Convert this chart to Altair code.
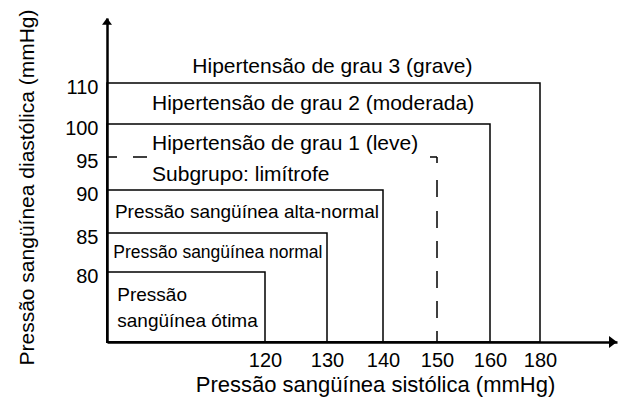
import altair as alt
import pandas as pd

FONT = "Liberation Sans, Arial, Helvetica, sans-serif"

# ---- data -------------------------------------------------------------
# axis extents (origin and arrow tips)
sys_origin, sys_end = 100, 200
dia_origin, dia_end = 70, 120

# tick labels
x_ticks = [120, 130, 140, 150, 160, 180]
y_ticks = [80, 85, 90, 95, 100, 110]

# solid category boxes: upper systolic / diastolic limits
box_sys = [180, 160, 140, 130, 120]
box_dia = [110, 100, 90, 85, 80]

# dashed borderline subgroup limit
border_sys = 150
border_dia = 95

# region labels and their anchor points (data units)
labels = [
    "Hipertensão de grau 3 (grave)",
    "Hipertensão de grau 2 (moderada)",
    "Hipertensão de grau 1 (leve)",
    "Subgrupo: limítrofe",
    "Pressão sangüínea alta-normal",
    "Pressão sangüínea normal",
    "Pressão",
    "sangüínea ótima",
]
label_x = [110.8, 105.7, 105.7, 105.7, 101.0, 100.8, 101.3, 101.3]
label_y = [112.5, 104.8, 96.9, 92.2, 87.4, 82.4, 76.7, 73.0]

# ---- scales (piecewise, as in the drawing) -----------------------------
x_domain = [sys_origin] + x_ticks + [sys_end]
x_range = [0, 158, 220, 276, 330, 383, 433, 510]
y_domain = [dia_origin] + y_ticks + [dia_end]
y_range = [332, 262, 223, 180, 147, 114, 73, 8]

xscale = alt.Scale(domain=x_domain, range=x_range, zero=False, nice=False)
yscale = alt.Scale(domain=y_domain, range=y_range, zero=False, nice=False)

xaxis = alt.Axis(
    values=x_ticks, title="Pressão sangüínea sistólica (mmHg)",
    ticks=False, grid=False, domain=True, domainColor="black", domainWidth=2.5,
    labelFont=FONT, labelFontSize=20, labelColor="black", labelPadding=8,
    labelFlush=False, labelOverlap=False,
    titleFont=FONT, titleFontSize=22, titleFontWeight="normal", titleColor="black",
    titleX=268, titleY=49, titleBaseline="alphabetic",
)
yaxis = alt.Axis(
    values=y_ticks, title="Pressão sangüínea diastólica (mmHg)",
    ticks=False, grid=False, domain=True, domainColor="black", domainWidth=2.5,
    labelFont=FONT, labelFontSize=20, labelColor="black", labelPadding=9,
    labelBaseline="middle", labelOffset=4,
    labelFlush=False, labelOverlap=False,
    titleFont=FONT, titleFontSize=21, titleFontWeight="normal", titleColor="black",
    titleX=-74, titleY=177, titleBaseline="alphabetic",
)

# ---- layers -------------------------------------------------------------
boxes = pd.DataFrame({
    "x0": [sys_origin] * len(box_sys), "x1": box_sys,
    "y0": [dia_origin] * len(box_dia), "y1": box_dia,
})
box_layer = alt.Chart(boxes).mark_rect(
    filled=False, stroke="black", strokeWidth=1.5
).encode(
    x=alt.X("x0:Q", scale=xscale, axis=xaxis),
    x2="x1:Q",
    y=alt.Y("y0:Q", scale=yscale, axis=yaxis),
    y2="y1:Q",
)

hdash = alt.Chart(pd.DataFrame({"x0": [sys_origin], "x1": [border_sys], "y0": [border_dia]})).mark_rule(
    color="black", strokeWidth=1.5, strokeDash=[10, 16, 14, 283, 10]
).encode(
    x=alt.X("x0:Q", scale=xscale, axis=xaxis), x2="x1:Q",
    y=alt.Y("y0:Q", scale=yscale, axis=yaxis),
)
vdash = alt.Chart(pd.DataFrame({"x0": [border_sys], "y0": [border_dia], "y1": [dia_origin]})).mark_rule(
    color="black", strokeWidth=1.5,
    strokeDash=[6, 17, 17, 14, 17, 13, 17, 13, 17, 13, 17, 13, 17, 13],
).encode(
    x=alt.X("x0:Q", scale=xscale, axis=xaxis),
    y=alt.Y("y0:Q", scale=yscale, axis=yaxis), y2="y1:Q",
)

arrow_x = alt.Chart(pd.DataFrame({"x": [sys_end], "y": [dia_origin]})).mark_point(
    shape="M-1.33,-1L0,0L-1.33,1Z", filled=True, color="black", opacity=1, size=144, strokeWidth=0
).encode(
    x=alt.X("x:Q", scale=xscale, axis=xaxis),
    y=alt.Y("y:Q", scale=yscale, axis=yaxis),
)
arrow_y = alt.Chart(pd.DataFrame({"x": [sys_origin], "y": [dia_end]})).mark_point(
    shape="M-1,1.33L0,0L1,1.33Z", filled=True, color="black", opacity=1, size=100, strokeWidth=0
).encode(
    x=alt.X("x:Q", scale=xscale, axis=xaxis),
    y=alt.Y("y:Q", scale=yscale, axis=yaxis),
)

lab = pd.DataFrame({"label": labels, "x": label_x, "y": label_y})


def text_layer(df, size):
    return alt.Chart(df).mark_text(
        align="left", baseline="middle", font=FONT, fontSize=size, color="black"
    ).encode(
        x=alt.X("x:Q", scale=xscale, axis=xaxis),
        y=alt.Y("y:Q", scale=yscale, axis=yaxis),
        text="label:N",
    )


t_big = text_layer(lab.iloc[0:4], 21)
t_mid = text_layer(lab.iloc[[4, 6, 7]], 19)
t_small = text_layer(lab.iloc[[5]], 17.5)

chart = alt.layer(
    box_layer, hdash, vdash, arrow_x, arrow_y, t_big, t_mid, t_small
).properties(
    width=512, height=332,
    autosize=alt.AutoSizeParams(type="none"),
    padding={"left": 99, "top": 2, "right": 0, "bottom": 55},
    background="white",
).configure_view(stroke=None)

chart.save("out.html", embed_options={"renderer": "svg", "actions": False})
